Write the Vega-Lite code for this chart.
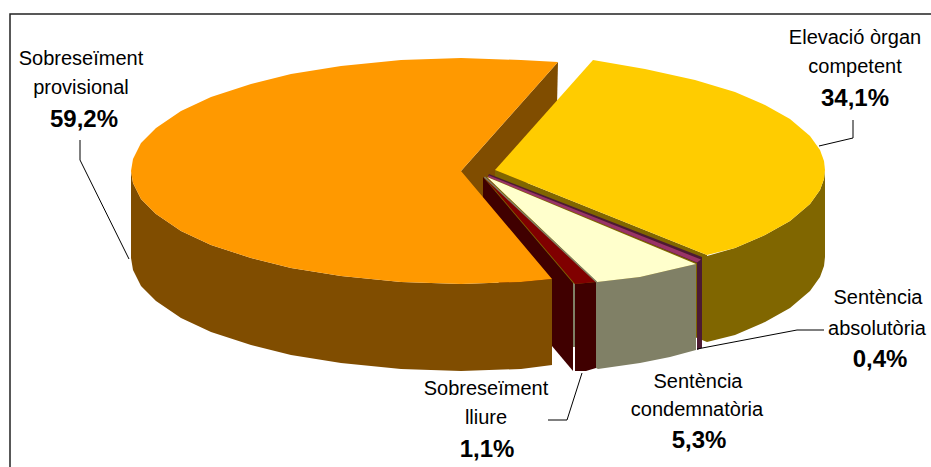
{"$schema":"https://vega.github.io/schema/vega-lite/v6.json","width":931,"height":467,"autosize":{"type":"none"},"padding":0,"background":"white","view":{"stroke":null},
"encoding":{"x":{"field":"x","type":"quantitative","axis":null,"scale":{"domain":[0,931],"nice":false,"zero":false}},"y":{"field":"y","type":"quantitative","axis":null,"scale":{"domain":[467,0],"nice":false,"zero":false}}},
"layer":[
{"data":{"values":[
{"p":"a_wedge","i":0,"x":461,"y":171},{"p":"a_wedge","i":1,"x":558,"y":62},{"p":"a_wedge","i":2,"x":556,"y":149},{"p":"a_wedge","i":3,"x":461,"y":258},
{"p":"b_ycut","i":0,"x":495,"y":170},{"p":"b_ycut","i":1,"x":707,"y":255},{"p":"b_ycut","i":2,"x":707,"y":342},{"p":"b_ycut","i":3,"x":495,"y":257},
{"p":"c_ywall","i":0,"x":825,"y":170},{"p":"c_ywall","i":0.5,"x":824,"y":179},{"p":"c_ywall","i":1,"x":820,"y":190},{"p":"c_ywall","i":2,"x":810,"y":204},{"p":"c_ywall","i":3,"x":790,"y":221},{"p":"c_ywall","i":4,"x":765,"y":235},{"p":"c_ywall","i":5,"x":735,"y":248},{"p":"c_ywall","i":6,"x":707,"y":256},{"p":"c_ywall","i":7,"x":707,"y":342},{"p":"c_ywall","i":8,"x":735,"y":335},{"p":"c_ywall","i":9,"x":765,"y":322},{"p":"c_ywall","i":10,"x":790,"y":308},{"p":"c_ywall","i":11,"x":810,"y":291},{"p":"c_ywall","i":12,"x":820,"y":277},{"p":"c_ywall","i":12.5,"x":824,"y":266},{"p":"c_ywall","i":13,"x":825,"y":257},
{"p":"d_ytop","i":0,"x":495,"y":170},{"p":"d_ytop","i":1,"x":593,"y":60},{"p":"d_ytop","i":2,"x":645,"y":69},{"p":"d_ytop","i":3,"x":695,"y":80},{"p":"d_ytop","i":4,"x":735,"y":92},{"p":"d_ytop","i":5,"x":765,"y":105},{"p":"d_ytop","i":6,"x":790,"y":119},{"p":"d_ytop","i":7,"x":810,"y":136},{"p":"d_ytop","i":8,"x":820,"y":150},{"p":"d_ytop","i":8.5,"x":824,"y":161},{"p":"d_ytop","i":9,"x":825,"y":170},{"p":"d_ytop","i":9.5,"x":824,"y":179},{"p":"d_ytop","i":10,"x":820,"y":190},{"p":"d_ytop","i":11,"x":810,"y":204},{"p":"d_ytop","i":12,"x":790,"y":221},{"p":"d_ytop","i":13,"x":765,"y":235},{"p":"d_ytop","i":14,"x":735,"y":248},{"p":"d_ytop","i":15,"x":707,"y":255},
{"p":"e_pdark","i":0,"x":489,"y":174},{"p":"e_pdark","i":1,"x":702,"y":257},{"p":"e_pdark","i":2,"x":702,"y":348},{"p":"e_pdark","i":3,"x":697,"y":350},{"p":"e_pdark","i":4,"x":697,"y":263},{"p":"e_pdark","i":5,"x":488,"y":176},
{"p":"f_ptop","i":0,"x":489,"y":175.5},{"p":"f_ptop","i":1,"x":701,"y":259.5},{"p":"f_ptop","i":2,"x":697,"y":262.5},{"p":"f_ptop","i":3,"x":488,"y":177},
{"p":"g_maroon","i":0,"x":483,"y":177},{"p":"g_maroon","i":1,"x":573,"y":283},{"p":"g_maroon","i":2,"x":573,"y":371},{"p":"g_maroon","i":3,"x":483,"y":264},
{"p":"h_owall","i":0,"x":131,"y":171},{"p":"h_owall","i":1,"x":133,"y":183},{"p":"h_owall","i":2,"x":141,"y":199},{"p":"h_owall","i":3,"x":156,"y":214},{"p":"h_owall","i":4,"x":181,"y":231},{"p":"h_owall","i":5,"x":211,"y":245},{"p":"h_owall","i":6,"x":251,"y":258},{"p":"h_owall","i":7,"x":291,"y":268},{"p":"h_owall","i":8,"x":341,"y":276},{"p":"h_owall","i":9,"x":401,"y":282},{"p":"h_owall","i":10,"x":461,"y":284},{"p":"h_owall","i":11,"x":521,"y":282},{"p":"h_owall","i":12,"x":552,"y":279},{"p":"h_owall","i":13,"x":552,"y":365},{"p":"h_owall","i":14,"x":521,"y":369},{"p":"h_owall","i":15,"x":461,"y":371},{"p":"h_owall","i":16,"x":401,"y":369},{"p":"h_owall","i":17,"x":341,"y":363},{"p":"h_owall","i":18,"x":291,"y":355},{"p":"h_owall","i":19,"x":251,"y":345},{"p":"h_owall","i":20,"x":211,"y":332},{"p":"h_owall","i":21,"x":181,"y":318},{"p":"h_owall","i":22,"x":156,"y":301},{"p":"h_owall","i":23,"x":141,"y":286},{"p":"h_owall","i":24,"x":133,"y":270},{"p":"h_owall","i":25,"x":131,"y":258},
{"p":"i_otop","i":0,"x":461,"y":171},{"p":"i_otop","i":1,"x":558,"y":62},{"p":"i_otop","i":2,"x":521,"y":60},{"p":"i_otop","i":3,"x":461,"y":58},{"p":"i_otop","i":4,"x":401,"y":60},{"p":"i_otop","i":5,"x":341,"y":66},{"p":"i_otop","i":6,"x":291,"y":74},{"p":"i_otop","i":7,"x":251,"y":84},{"p":"i_otop","i":8,"x":211,"y":97},{"p":"i_otop","i":9,"x":181,"y":111},{"p":"i_otop","i":10,"x":156,"y":128},{"p":"i_otop","i":11,"x":141,"y":143},{"p":"i_otop","i":12,"x":133,"y":159},{"p":"i_otop","i":13,"x":131,"y":171},{"p":"i_otop","i":14,"x":133,"y":183},{"p":"i_otop","i":15,"x":141,"y":199},{"p":"i_otop","i":16,"x":156,"y":214},{"p":"i_otop","i":17,"x":181,"y":231},{"p":"i_otop","i":18,"x":211,"y":245},{"p":"i_otop","i":19,"x":251,"y":258},{"p":"i_otop","i":20,"x":291,"y":268},{"p":"i_otop","i":21,"x":341,"y":276},{"p":"i_otop","i":22,"x":401,"y":282},{"p":"i_otop","i":23,"x":461,"y":284},{"p":"i_otop","i":24,"x":521,"y":282},{"p":"i_otop","i":25,"x":552,"y":279},
{"p":"j_gap","i":0,"x":573,"y":283},{"p":"j_gap","i":1,"x":575,"y":284},{"p":"j_gap","i":2,"x":575,"y":347},{"p":"j_gap","i":3,"x":573,"y":347},
{"p":"k_rwall","i":0,"x":575,"y":284},{"p":"k_rwall","i":1,"x":596,"y":282},{"p":"k_rwall","i":2,"x":596,"y":368},{"p":"k_rwall","i":3,"x":586,"y":371},{"p":"k_rwall","i":4,"x":575,"y":371},
{"p":"l_rtop","i":0,"x":484,"y":177},{"p":"l_rtop","i":1,"x":596,"y":282},{"p":"l_rtop","i":2,"x":575,"y":284},
{"p":"m_cwall","i":0,"x":596,"y":282},{"p":"m_cwall","i":1,"x":640,"y":277},{"p":"m_cwall","i":2,"x":670,"y":270},{"p":"m_cwall","i":3,"x":696,"y":264},{"p":"m_cwall","i":4,"x":696,"y":350},{"p":"m_cwall","i":5,"x":670,"y":357},{"p":"m_cwall","i":6,"x":640,"y":363},{"p":"m_cwall","i":7,"x":598,"y":369},{"p":"m_cwall","i":8,"x":596,"y":368},
{"p":"n_ctop","i":0,"x":487,"y":177},{"p":"n_ctop","i":1,"x":696,"y":264},{"p":"n_ctop","i":2,"x":670,"y":270},{"p":"n_ctop","i":3,"x":640,"y":277},{"p":"n_ctop","i":4,"x":597,"y":282},
{"p":"o_seam","i":0,"x":485,"y":176.5},{"p":"o_seam","i":1,"x":597,"y":281.5},{"p":"o_seam","i":2,"x":596,"y":282.5},{"p":"o_seam","i":3,"x":484,"y":177.5}
]},
"mark":{"type":"line","strokeWidth":0,"interpolate":"linear"},
"encoding":{"order":{"field":"i","type":"quantitative"},"detail":{"field":"p"},
"fill":{"field":"p","type":"nominal","legend":null,"scale":{"domain":["a_wedge","b_ycut","c_ywall","d_ytop","e_pdark","f_ptop","g_maroon","h_owall","i_otop","j_gap","k_rwall","l_rtop","m_cwall","n_ctop","o_seam"],"range":["#804D00","#806600","#806600","#FFCC00","#4D1A33","#993366","#400000","#804D00","#FF9900","#808066","#400000","#800000","#808066","#FFFFCC","#808066"]}}}},
{"data":{"values":[
{"l":"a","i":0,"x":80,"y":140},{"l":"a","i":1,"x":80,"y":160},{"l":"a","i":2,"x":129,"y":259},
{"l":"b","i":0,"x":853,"y":120},{"l":"b","i":1,"x":853,"y":138},{"l":"b","i":2,"x":819,"y":146},
{"l":"c","i":0,"x":697,"y":349},{"l":"c","i":1,"x":797,"y":330},{"l":"c","i":2,"x":824,"y":330},
{"l":"d","i":0,"x":548,"y":420},{"l":"d","i":1,"x":567,"y":420},{"l":"d","i":2,"x":582,"y":373}
]},"mark":{"type":"line","color":"#000000","strokeWidth":1},"encoding":{"order":{"field":"i","type":"quantitative"},"detail":{"field":"l"}}},
{"data":{"values":[{"i":0,"x":10,"y":467},{"i":1,"x":10,"y":14},{"i":2,"x":931,"y":14}]},"mark":{"type":"line","color":"#222222","strokeWidth":1.5},"encoding":{"order":{"field":"i","type":"quantitative"}}},
{"data":{"values":[
{"t":"Sobreseïment","x":81,"y":65},{"t":"provisional","x":81,"y":94},
{"t":"Elevació òrgan","x":855,"y":44},{"t":"competent","x":855,"y":73},
{"t":"Sentència","x":878,"y":304},{"t":"absolutòria","x":877,"y":335},
{"t":"Sentència","x":698,"y":388},{"t":"condemnatòria","x":697,"y":416},
{"t":"Sobreseïment","x":486,"y":395},{"t":"lliure","x":486,"y":424}
]},"mark":{"type":"text","font":"Liberation Sans","fontSize":20,"align":"center","baseline":"alphabetic","color":"#000000"},"encoding":{"text":{"field":"t"}}},
{"data":{"values":[
{"t":"59,2%","x":84,"y":127},{"t":"34,1%","x":855,"y":106},{"t":"0,4%","x":880,"y":367},{"t":"5,3%","x":699,"y":448},{"t":"1,1%","x":487,"y":457}
]},"mark":{"type":"text","font":"Liberation Sans","fontSize":24,"fontWeight":"bold","align":"center","baseline":"alphabetic","color":"#000000"},"encoding":{"text":{"field":"t"}}}
]}
